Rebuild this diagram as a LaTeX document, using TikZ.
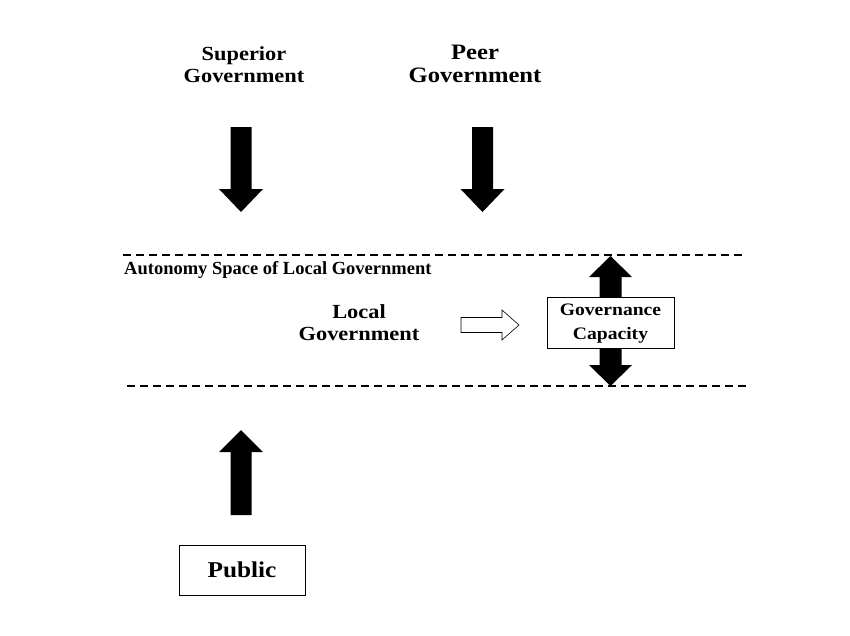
\documentclass[tikz,border=0pt]{standalone}
\usepackage{fontspec}
\setmainfont{Liberation Serif}[FakeStretch=1.12]
\newfontfamily\plainserif{Liberation Serif}
\begin{document}
\begin{tikzpicture}[x=1pt,y=-1pt,
  lbl/.style={font=\bfseries, align=center, inner sep=0pt},
  boxnode/.style={draw, line width=0.8pt, font=\bfseries, align=center},
  blk/.style={fill=black},
  hollow/.style={draw, fill=white, line width=0.6pt},
  dashline/.style={line width=1.7pt, dash pattern=on 8pt off 5pt}]
\useasboundingbox (0,0) rectangle (850,635);
% labels
\node[lbl, font=\bfseries\fontsize{20}{22}\selectfont] (sup) at (244,64.5) {Superior\\Government};
\node[lbl, font=\bfseries\fontsize{22}{23}\selectfont] (peer) at (475,64) {Peer\\Government};
\node[lbl, font=\bfseries\fontsize{20}{22}\selectfont] (loc) at (359,322.5) {Local\\Government};
\node[lbl, font=\plainserif\bfseries\fontsize{18.5}{20}\selectfont, anchor=west] (aut) at (124,270) {Autonomy Space of Local Government};
% boxes
\node[boxnode, minimum width=127pt, minimum height=51pt] (gov) at (610.5,322.5) {};
\node[lbl, font=\bfseries\fontsize{17.5}{24}\selectfont] (govtxt) at (610.5,324) {Governance\\Capacity};
\node[boxnode, minimum width=126pt, minimum height=50pt, font=\bfseries\fontsize{22.6}{24}\selectfont] (pub) at (242,570) {Public};
% dashed lines
\coordinate (d1a) at (123,255); \coordinate (d1b) at (745,255);
\coordinate (d2a) at (127,386); \coordinate (d2b) at (748,386);
\draw[dashline] (d1a) -- (d1b);
\draw[dashline] (d2a) -- (d2b);
% down arrows
\fill[blk] (230.5,127) -- (251.5,127) -- (251.5,189) -- (263,189) -- (241,212) -- (219,189) -- (230.5,189) -- cycle;
\fill[blk] (472,127) -- (493,127) -- (493,189) -- (504.5,189) -- (482.5,212) -- (460.5,189) -- (472,189) -- cycle;
% public up arrow
\fill[blk] (230.5,515) -- (251.5,515) -- (251.5,452) -- (263,452) -- (241,430) -- (219,452) -- (230.5,452) -- cycle;
% governance arrows
\fill[blk] (599.5,297) -- (621.5,297) -- (621.5,277) -- (632,277) -- (610.5,256) -- (589,277) -- (599.5,277) -- cycle;
\fill[blk] (599.5,348) -- (621.5,348) -- (621.5,365) -- (632,365) -- (610.5,386) -- (589,365) -- (599.5,365) -- cycle;
% hollow arrow
\draw[hollow] (461,317.5) -- (502,317.5) -- (502,310) -- (519,325) -- (502,340) -- (502,332.5) -- (461,332.5) -- cycle;
\end{tikzpicture}
\end{document}
